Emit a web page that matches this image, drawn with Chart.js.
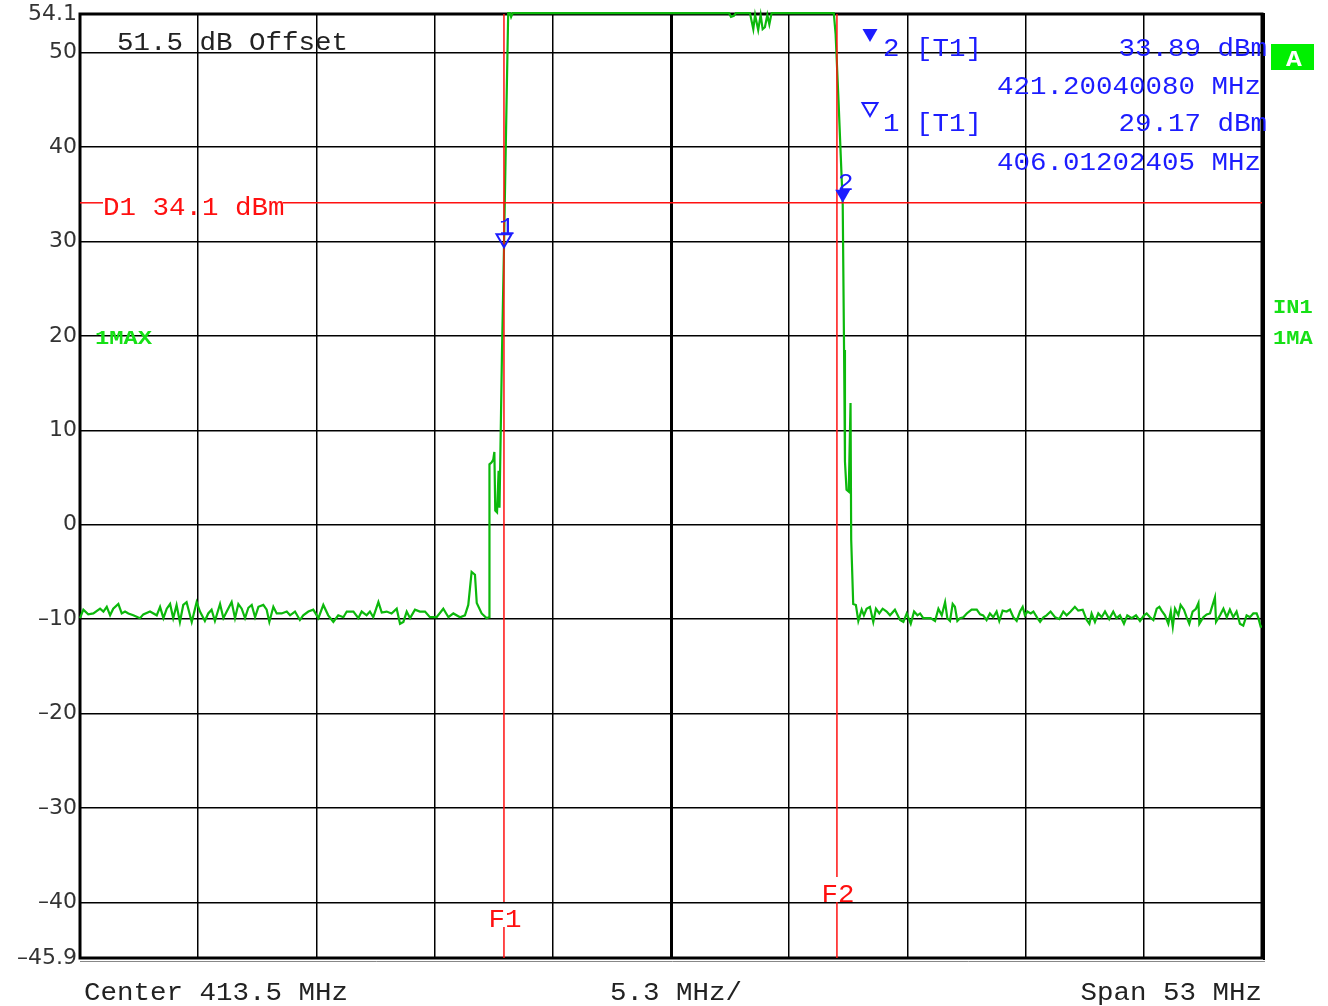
<!DOCTYPE html>
<html>
<head>
<meta charset="utf-8">
<script src="https://cdn.jsdelivr.net/npm/chart.js@4.4.1/dist/chart.umd.min.js"></script>
<style>
  html, body { margin: 0; padding: 0; background: #fff; }
  canvas { display: block; }
</style>
</head>
<body>
<canvas id="spectrum" width="1328" height="1006"></canvas>
<script>
// Spectrum trace (MHz, dBm)
const traceMHz = [
  387.00, 387.15, 387.37, 387.60, 387.90, 388.05, 388.20, 388.35, 388.49, 388.72,
  388.87, 389.02, 389.17, 389.39, 389.69, 389.84, 390.14, 390.44, 390.59, 390.74,
  390.89, 391.04, 391.18, 391.33, 391.48, 391.63, 391.78, 392.01, 392.23, 392.38,
  392.60, 392.75, 392.90, 393.05, 393.28, 393.43, 393.58, 393.80, 393.95, 394.10,
  394.25, 394.40, 394.55, 394.70, 394.85, 395.00, 395.22, 395.37, 395.49, 395.67,
  395.82, 396.04, 396.27, 396.42, 396.64, 396.86, 397.01, 397.24, 397.46, 397.69,
  397.91, 398.13, 398.36, 398.58, 398.81, 398.96, 399.26, 399.48, 399.63, 399.85,
  400.00, 400.15, 400.38, 400.53, 400.75, 400.97, 401.20, 401.35, 401.50, 401.65,
  401.80, 402.02, 402.24, 402.47, 402.69, 402.99, 403.29, 403.52, 403.74, 404.04,
  404.26, 404.41, 404.56, 404.71, 404.79, 405.01, 405.23, 405.34,
  // lower skirt
  405.36, 405.46, 405.53, 405.58, 405.62, 405.70, 405.77, 405.81, 405.92, 406.01,
  406.13, 406.20, 406.28, 406.33, 406.40,
  // passband
  416.10, 416.19, 416.32, 416.41, 417.04, 417.19, 417.27, 417.41, 417.52, 417.61,
  417.71, 417.82, 417.91, 418.01, 420.80,
  // upper skirt
  420.88, 421.01, 421.20, 421.26, 421.30, 421.37, 421.47, 421.55, 421.58, 421.67,
  421.79,
  // upper noise floor
  421.90, 422.05, 422.15, 422.27, 422.42, 422.57, 422.69, 422.84, 422.99, 423.17,
  423.32, 423.54, 423.77, 423.92, 424.07, 424.25, 424.40, 424.55, 424.67, 424.81,
  424.99, 425.14, 425.34, 425.49, 425.64, 425.79, 425.89, 426.01, 426.13, 426.23,
  426.34, 426.46, 426.61, 426.76, 426.98, 427.21, 427.36, 427.50, 427.65, 427.80,
  427.95, 428.10, 428.22, 428.37, 428.55, 428.70, 428.85, 429.00, 429.15, 429.27,
  429.37, 429.48, 429.63, 429.75, 429.93, 430.05, 430.20, 430.34, 430.52, 430.72,
  430.91, 431.09, 431.24, 431.42, 431.61, 431.76, 431.96, 432.14, 432.26, 432.36,
  432.51, 432.66, 432.81, 432.96, 433.15, 433.33, 433.48, 433.63, 433.81, 433.96,
  434.16, 434.35, 434.53, 434.71, 434.83, 434.98, 435.13, 435.28, 435.40, 435.50,
  435.65, 435.80, 435.91, 436.00, 436.10, 436.25, 436.35, 436.50, 436.62, 436.74,
  436.89, 437.04, 437.15, 437.19, 437.37, 437.52, 437.67, 437.89, 437.94, 438.12,
  438.27, 438.42, 438.56, 438.71, 438.86, 439.01, 439.16, 439.31, 439.46, 439.61,
  439.76, 439.84, 439.94, 440.00
];
const traceDbm = [
  -9.9, -9.0, -9.5, -9.4, -8.9, -9.2, -8.7, -9.6, -8.9, -8.4,
  -9.4, -9.2, -9.4, -9.6, -9.9, -9.5, -9.2, -9.6, -8.7, -9.9,
  -8.9, -8.4, -9.9, -8.5, -10.3, -8.5, -8.2, -10.3, -8.2, -9.2,
  -10.2, -9.4, -9.0, -10.2, -8.4, -9.9, -9.2, -8.2, -9.9, -8.4,
  -8.9, -9.9, -8.8, -8.5, -9.8, -8.7, -8.5, -9.0, -10.3, -8.7,
  -9.4, -9.4, -9.2, -9.6, -9.2, -10.1, -9.6, -9.2, -9.0, -9.9,
  -8.5, -9.6, -10.3, -9.6, -9.8, -9.2, -9.2, -9.9, -9.2, -9.6,
  -9.2, -9.8, -8.2, -9.3, -9.2, -9.4, -8.9, -10.5, -10.3, -9.2,
  -9.9, -9.0, -9.2, -9.2, -9.8, -9.8, -8.9, -9.8, -9.4, -9.8,
  -9.6, -8.5, -5.0, -5.3, -8.3, -9.4, -9.9, -9.8,
  6.4, 6.6, 6.9, 7.7, 1.5, 1.3, 5.7, 1.8, 18.0, 29.17,
  45.2, 54.2, 54.2, 53.8, 54.2,
  54.2, 53.8, 53.9, 54.2, 54.2, 52.5, 54.0, 52.4, 54.0, 52.5,
  52.7, 54.0, 53.0, 54.2, 54.2,
  52.0, 45.0, 33.89, 18.5, 6.7, 3.7, 3.5, 12.9, -1.6, -8.4,
  -8.5,
  -10.2, -9.0, -9.6, -8.9, -8.7, -10.3, -8.9, -9.4, -8.9, -9.2,
  -9.6, -9.0, -10.1, -10.3, -9.4, -10.5, -9.2, -9.6, -9.4, -9.9,
  -9.9, -9.9, -10.2, -8.9, -9.6, -8.2, -9.9, -10.2, -8.4, -8.7,
  -10.2, -9.9, -9.8, -9.4, -9.0, -9.0, -9.5, -9.6, -10.1, -9.4,
  -9.8, -9.2, -10.2, -9.1, -9.2, -9.0, -9.8, -10.2, -9.2, -8.7,
  -9.6, -9.2, -9.4, -9.2, -9.9, -10.3, -9.8, -9.6, -9.2, -9.8,
  -10.0, -9.2, -9.6, -9.2, -8.7, -9.1, -9.0, -10.1, -10.5, -9.4,
  -10.3, -9.4, -9.8, -9.2, -10.0, -9.2, -9.9, -9.6, -10.5, -9.6,
  -9.9, -9.6, -10.2, -9.6, -9.4, -9.8, -10.1, -8.9, -8.7, -9.1,
  -9.6, -10.5, -9.2, -10.8, -8.9, -9.6, -8.5, -9.0, -9.8, -10.5,
  -9.2, -8.9, -8.3, -10.5, -9.8, -9.5, -9.4, -7.7, -10.3, -9.6,
  -8.9, -9.8, -9.0, -9.8, -9.2, -10.5, -10.7, -9.6, -9.8, -9.4,
  -9.4, -9.9, -10.8, -10.8
];

// Axes
const xGridMHz = [387, 392.3, 397.6, 402.9, 408.2, 413.5, 418.8, 424.1, 429.4, 434.7, 440];
const yTicks = [-45.9, -40, -30, -20, -10, 0, 10, 20, 30, 40, 50, 54.1];
const yTickText = ['\u201345.9', '\u201340', '\u201330', '\u201320', '\u201310', '0', '10', '20', '30', '40', '50', '54.1'];

// Markers, display line, frequency lines
const markerNames = ['1', '2'];
const markerMHz = [406.01202405, 421.20040080];
const markerDbm = [29.17, 33.89];
const displayLineDbm = 34.1;
const freqLineNames = ['F1', 'F2'];
const freqLineMHz = [406.01, 420.94];

const MONO = '"Liberation Mono", "DejaVu Sans Mono", monospace';
const BLUE = '#1c1cff';
const RED = '#ff1010';
const LIME = '#16e016';

function monoText(ctx, text, x, y, color, align, size, bold, sx) {
  ctx.save();
  ctx.translate(x, y);
  ctx.scale(sx || 1.1, 1);
  ctx.font = (bold ? 'bold ' : '') + (size || 25) + 'px ' + MONO;
  ctx.fillStyle = color;
  ctx.textAlign = align || 'left';
  ctx.textBaseline = 'alphabetic';
  ctx.fillText(text, 0, 0);
  ctx.restore();
}

function triangle(ctx, cx, tipY, filled) {
  ctx.beginPath();
  ctx.moveTo(cx - 7.5, tipY - 13);
  ctx.lineTo(cx + 7.5, tipY - 13);
  ctx.lineTo(cx, tipY);
  ctx.closePath();
  if (filled) {
    ctx.fillStyle = BLUE;
    ctx.fill();
  } else {
    ctx.strokeStyle = BLUE;
    ctx.lineWidth = 2;
    ctx.stroke();
  }
}

function line(ctx, x1, y1, x2, y2) {
  ctx.beginPath();
  ctx.moveTo(x1, y1);
  ctx.lineTo(x2, y2);
  ctx.stroke();
}

const analyzerOverlay = {
  id: 'analyzerOverlay',
  beforeDatasetsDraw(chart) {
    const { ctx, chartArea: a } = chart;
    ctx.save();
    ctx.strokeStyle = '#000';
    ctx.lineWidth = 3;
    ctx.strokeRect(a.left, a.top, a.right - a.left, a.bottom - a.top);
    ctx.lineWidth = 2;
    line(ctx, a.right + 2, a.top - 1, a.right + 2, a.bottom + 2);
    ctx.strokeStyle = '#888';
    ctx.lineWidth = 1;
    line(ctx, a.left, a.bottom + 3.5, a.right + 3, a.bottom + 3.5);
    ctx.restore();
  },
  afterDatasetsDraw(chart) {
    const { ctx, chartArea: a, scales: { x, y } } = chart;
    ctx.save();

    // display line D1
    const dy = y.getPixelForValue(displayLineDbm);
    ctx.strokeStyle = RED;
    ctx.lineWidth = 1.5;
    line(ctx, a.left, dy, a.left + 23, dy);
    line(ctx, a.left + 203, dy, a.right, dy);
    monoText(ctx, 'D1 ' + displayLineDbm + ' dBm', a.left + 23, dy + 12, RED);

    // frequency lines F1 / F2 with their labels near the bottom
    const labelBase = [a.bottom - 31, a.bottom - 56];
    freqLineMHz.forEach((f, i) => {
      const fx = x.getPixelForValue(f);
      ctx.strokeStyle = RED;
      ctx.lineWidth = 1.5;
      line(ctx, fx, a.top, fx, labelBase[i] - 25);
      line(ctx, fx, labelBase[i], fx, a.bottom);
      monoText(ctx, freqLineNames[i], fx + 1, labelBase[i], RED, 'center');
    });

    // markers on the trace
    markerMHz.forEach((f, i) => {
      const mx = x.getPixelForValue(f);
      const my = y.getPixelForValue(markerDbm[i]) - 2;
      triangle(ctx, mx, my, i === 1);
      monoText(ctx, markerNames[i], mx + 3, my - 13, BLUE, 'center', 24);
    });

    // marker readout
    triangle(ctx, 870, 42, true);
    triangle(ctx, 870, 116, false);
    monoText(ctx, markerNames[1] + ' [T1]', 883, 56, BLUE);
    monoText(ctx, markerDbm[1].toFixed(2) + ' dBm', 1267, 56, BLUE, 'right');
    monoText(ctx, markerMHz[1].toFixed(8) + ' MHz', 1261, 94, BLUE, 'right');
    monoText(ctx, markerNames[0] + ' [T1]', 883, 131, BLUE);
    monoText(ctx, markerDbm[0].toFixed(2) + ' dBm', 1267, 131, BLUE, 'right');
    monoText(ctx, markerMHz[0].toFixed(8) + ' MHz', 1261, 170, BLUE, 'right');

    // header / footer text
    monoText(ctx, '51.5 dB Offset', 117, 50, '#222');
    monoText(ctx, 'Center 413.5 MHz', 84, 1000, '#222');
    monoText(ctx, '5.3 MHz/', 610, 1000, '#222');
    monoText(ctx, 'Span 53 MHz', 1262, 1000, '#222', 'right');

    // trace / screen labels
    monoText(ctx, '1MAX', 95, 344, LIME, 'left', 20, true, 1.19);
    monoText(ctx, 'IN1', 1273, 313, LIME, 'left', 20, true, 1.1);
    monoText(ctx, '1MA', 1273, 344, LIME, 'left', 20, true, 1.1);
    ctx.fillStyle = '#00f000';
    ctx.fillRect(1271, 44, 43, 26);
    monoText(ctx, 'A', 1294, 66, '#fff', 'center', 22, true, 1.2);

    ctx.restore();
  }
};

const canvas = document.getElementById('spectrum');
new Chart(canvas.getContext('2d'), {
  type: 'line',
  data: {
    datasets: [{
      label: '1MAX',
      data: traceMHz.map((f, i) => ({ x: f, y: traceDbm[i] })),
      borderColor: '#0cb80c',
      borderWidth: 2.2,
      pointRadius: 0,
      tension: 0,
      fill: false,
      clip: false
    }]
  },
  options: {
    responsive: false,
    animation: false,
    devicePixelRatio: 1,
    layout: { padding: { top: 14, right: 66, bottom: 48, left: 0 } },
    plugins: {
      legend: { display: false },
      tooltip: { enabled: false }
    },
    scales: {
      x: {
        type: 'linear',
        min: 387,
        max: 440,
        afterBuildTicks: s => { s.ticks = xGridMHz.map(v => ({ value: v })); },
        ticks: { display: false },
        grid: {
          color: '#000',
          lineWidth: c => (c.tick && c.tick.value === 413.5 ? 3 : 1.5),
          drawTicks: false
        },
        border: { display: false }
      },
      y: {
        min: -45.9,
        max: 54.1,
        afterBuildTicks: s => { s.ticks = yTicks.map(v => ({ value: v })); },
        afterFit: s => { s.width = 80; s.paddingTop = 0; s.paddingBottom = 0; },
        ticks: {
          padding: 3,
          color: '#333',
          font: { family: 'DejaVu Sans', size: 22, lineHeight: 1 },
          callback: v => {
            const i = yTicks.findIndex(t => Math.abs(t - v) < 0.01);
            return i >= 0 ? yTickText[i] : '';
          }
        },
        grid: { color: '#000', lineWidth: 1.5, drawTicks: false },
        border: { display: false }
      }
    }
  },
  plugins: [analyzerOverlay]
});
</script>
</body>
</html>
